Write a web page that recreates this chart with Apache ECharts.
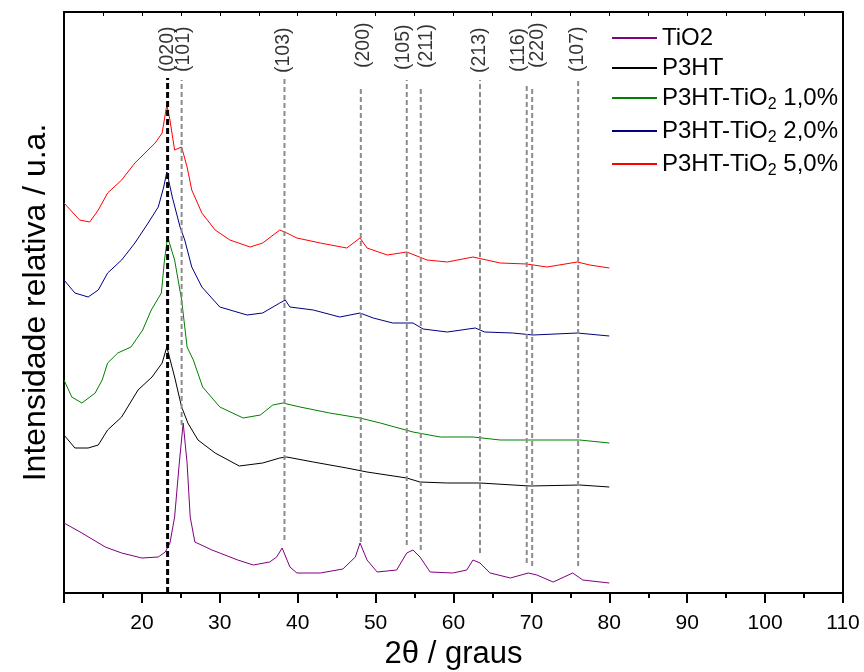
<!DOCTYPE html>
<html>
<head>
<meta charset="utf-8">
<script src="https://cdn.jsdelivr.net/npm/echarts@6.0.0/dist/echarts.min.js"></script>
<style>
  html, body { margin: 0; padding: 0; background: #fff; }
  #chart { width: 864px; height: 672px; }
</style>
</head>
<body>
<div id="chart"></div>
<script>
// [2theta, relative intensity] (arbitrary units, offset stacked)
const tio2 = [[10,74],[12.3,64],[15.3,50],[17.4,44],[20,39],[22.1,40],[23,45],[23.6,54],[24.2,80],[24.8,134],[25.3,174],[25.8,134],[26.2,80],[26.8,55],[29,47],[30,44],[32.3,37],[34.3,32],[36.4,35],[37.3,40],[38,49],[39,30],[39.9,24],[42.9,24],[45.8,28],[47.4,40],[48,54],[48.9,37],[50.2,25],[52.7,27],[54,44],[54.8,47],[55.7,40],[57,25],[59.9,24],[61.7,27],[62.5,37],[63.4,34],[64.7,24],[67.3,19],[69.6,24],[70.7,22],[72.8,15],[75.3,24],[76.6,17],[80,14]]
const p3ht = [[10,162],[11.4,149],[13.1,149],[14.4,152],[15.6,167],[17.4,180],[19.5,207],[21.3,220],[22.6,234],[23.2,250],[24.2,220],[25.1,190],[25.9,174],[27.2,157],[29.4,144],[32.5,131],[35.5,134],[37.7,139],[38.6,140],[42,135],[46.3,129],[48.9,125],[54,119],[55.7,115],[59.2,114],[63.4,114],[69.8,111],[76.2,112],[80,110]]
const p3htTio2_1 = [[10,217],[11,200],[12.3,194],[14,204],[14.9,217],[15.6,234],[16.9,244],[18.6,250],[20.1,267],[21.2,287],[22.5,304],[22.9,337],[23.3,360],[24.2,337],[25.1,297],[25.8,250],[26.6,237],[27.8,210],[30,190],[33,179],[35.2,182],[36.8,192],[38.1,194],[40.3,190],[44.1,184],[48,179],[50.6,174],[54.8,165],[58.3,160],[62.5,160],[66,157],[69.8,157],[76.2,157],[80,154]]
const p3htTio2_2 = [[10,317],[11.4,304],[13.1,300],[14.4,307],[15.6,324],[17.4,337],[19.1,354],[20.8,374],[22.1,390],[22.8,410],[23.2,425],[23.9,400],[24.9,370],[25.5,357],[26.4,330],[27.7,310],[30,290],[33.5,282],[35.5,284],[37.7,294],[38.4,297],[39,290],[42,287],[45.4,280],[48,284],[49.7,279],[52.2,274],[54.8,274],[56.1,268],[59.2,265],[62.8,269],[64,265],[67.6,264],[70.2,262],[75.9,264],[80,261]]
const p3htTio2_5 = [[10,394],[12,377],[13.3,375],[14.4,387],[15.6,404],[17.4,417],[19.1,434],[20.4,444],[21.7,454],[22.6,464],[23.2,492],[23.6,477],[24.2,447],[25.1,450],[25.8,430],[26.4,407],[27.7,384],[29.4,367],[31.3,357],[33.9,350],[35.5,354],[37.7,367],[38.6,364],[39.9,359],[42.9,354],[46.3,349],[48,359],[48.9,349],[51.5,342],[54,345],[56.6,337],[59.2,335],[62.5,340],[66,334],[69.4,333],[72,330],[75.9,335],[77.5,332],[80,329]]

// reflection markers
const peakLabels = ['(020)', '(101)', '(103)', '(200)', '(105)', '(211)', '(213)', '(116)', '(220)', '(107)']
const peakX = [23.3, 25.1, 38.3, 48.1, 54.0, 55.8, 63.4, 69.4, 70.1, 76.0]
const peakBottom = [4, 172, 57, 55, 52, 47, 44, 34, 31, 31]
const peakTop = [519, 517, 519, 509, 517, 511, 517, 513, 511, 517]
const peakLabelX = [23.3, 25.3, 38.2, 48.4, 53.6, 56.6, 63.4, 68.4, 70.8, 75.9]
const peakLabelY = [525, 525, 524, 529, 527, 529, 524, 525, 529, 525]

const xTickLabels = [20, 30, 40, 50, 60, 70, 80, 90, 100, 110]

const seriesNames = ['TiO2', 'P3HT', 'P3HT-TiO2 1,0%', 'P3HT-TiO2 2,0%', 'P3HT-TiO2 5,0%']
const seriesData = [tio2, p3ht, p3htTio2_1, p3htTio2_2, p3htTio2_5]
const seriesColors = ['#800080', '#000000', '#008000', '#000080', '#ff0000']

const chart = echarts.init(document.getElementById('chart'))

const series = seriesNames.map((name, i) => ({
  name: name,
  type: 'line',
  data: seriesData[i],
  symbol: 'none',
  color: seriesColors[i],
  lineStyle: { width: 1, color: seriesColors[i] },
  z: 2,
}))

peakX.forEach((x, i) => {
  series.push({
    name: 'peak' + i,
    type: 'line',
    data: [[x, peakBottom[i]], [x, peakTop[i]]],
    symbol: 'none',
    silent: true,
    lineStyle: i === 0
      ? { color: '#000', width: 3, type: [6, 3] }
      : { color: '#8c8c8c', width: 2, type: [5, 3] },
    z: 3,
  })
})

series.push({
  name: 'peakLabels',
  type: 'scatter',
  symbolSize: 1,
  itemStyle: { color: 'rgba(0,0,0,0)' },
  silent: true,
  data: peakLabels.map((t, i) => ({ name: t, value: [peakLabelX[i], peakLabelY[i]] })),
  label: {
    show: true,
    formatter: '{b}',
    position: 'inside',
    rotate: 90,
    align: 'left',
    verticalAlign: 'middle',
    color: '#000',
    fontSize: 19.5,
    fontFamily: 'Liberation Sans',
  },
  z: 4,
})

const options = {
  animation: false,
  backgroundColor: '#fff',
  textStyle: { fontFamily: 'Liberation Sans' },
  grid: { left: 64, right: 21, top: 12, bottom: 79, containLabel: false, outerBoundsMode: 'none' },
  legend: {
    data: seriesNames,
    orient: 'vertical',
    left: 607,
    top: 21,
    icon: 'rect',
    itemWidth: 45,
    itemHeight: 2,
    itemGap: 6,
    formatter: (name) => name === 'TiO2' ? name : name.replace('TiO2', 'TiO{sub|2}'),
    textStyle: {
      fontSize: 24,
      color: '#000',
      fontFamily: 'Liberation Sans',
      rich: {
        sub: { fontSize: 16, padding: [14, 0, 0, 0], verticalAlign: 'bottom', fontFamily: 'Liberation Sans' },
      },
    },
  },
  xAxis: [
    {
      type: 'value',
      min: 10,
      max: 110,
      interval: 10,
      name: '2θ / graus',
      nameLocation: 'middle',
      nameGap: 46,
      nameTextStyle: { fontSize: 31, color: '#000' },
      axisLine: { onZero: false, lineStyle: { color: '#000', width: 2 } },
      axisTick: { show: true, inside: false, length: 10, lineStyle: { width: 2, color: '#000' } },
      minorTick: { show: true, splitNumber: 2, length: 5, lineStyle: { width: 2, color: '#000' } },
      axisLabel: { customValues: xTickLabels, fontSize: 21, color: '#000', margin: 20 },
      splitLine: { show: false },
    },
    {
      type: 'value',
      position: 'top',
      min: 10,
      max: 110,
      interval: 5,
      axisLine: { onZero: false, lineStyle: { color: '#000', width: 2 } },
      axisTick: { show: true, inside: true, length: 4, lineStyle: { width: 1, color: '#000' } },
      axisLabel: { show: false },
      splitLine: { show: false },
    },
  ],
  yAxis: [
    {
      type: 'value',
      min: 4,
      max: 585,
      name: 'Intensidade relativa / u.a.',
      nameLocation: 'middle',
      nameGap: 12,
      nameTextStyle: { fontSize: 32, color: '#000' },
      axisLine: { show: true, onZero: false, lineStyle: { color: '#000', width: 2 } },
      axisTick: { show: false },
      axisLabel: { show: false },
      splitLine: { show: false },
    },
    {
      type: 'value',
      position: 'right',
      min: 4,
      max: 585,
      axisLine: { show: true, onZero: false, lineStyle: { color: '#000', width: 2 } },
      axisTick: { show: false },
      axisLabel: { show: false },
      splitLine: { show: false },
    },
  ],
  series: series,
}

chart.setOption(options, true)
</script>
</body>
</html>
